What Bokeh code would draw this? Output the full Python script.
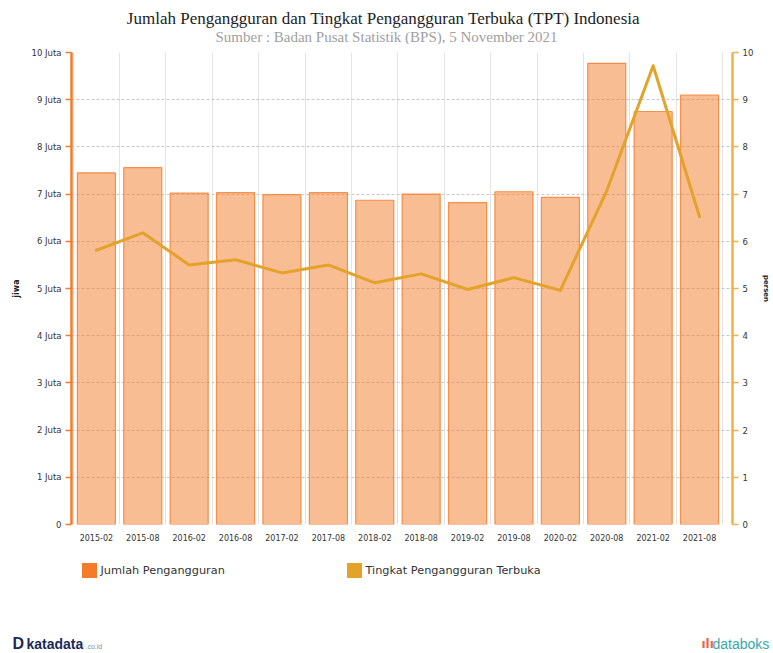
from bokeh.plotting import figure
from bokeh.layouts import column
from bokeh.models import (Range1d, LinearAxis, FixedTicker, SingleIntervalTicker,
                          PrintfTickFormatter)
from bokeh.core.properties import value
from bokeh.embed import file_html
from bokeh.resources import INLINE

# ---- data ----
periods = ["2015-02", "2015-08", "2016-02", "2016-08", "2017-02", "2017-08", "2018-02",
           "2018-08", "2019-02", "2019-08", "2020-02", "2020-08", "2021-02", "2021-08"]
jumlah_juta = [7.45, 7.56, 7.02, 7.03, 6.99, 7.03, 6.87, 7.00, 6.82, 7.05, 6.93, 9.77, 8.75, 9.10]
tpt_persen = [5.81, 6.18, 5.50, 5.61, 5.33, 5.50, 5.12, 5.31, 4.98, 5.23, 4.96, 7.07, 9.72, 6.52]
left_ticks = list(range(0, 11))
title_text = "Jumlah Pengangguran dan Tingkat Pengangguran Terbuka (TPT) Indonesia"
subtitle_text = "Sumber : Badan Pusat Statistik (BPS), 5 November 2021"
series_names = ["Jumlah Pengangguran", "Tingkat Pengangguran Terbuka"]

ORANGE = "#F47B2A"
GOLD = "#E3A229"
TXT = "#333333"
W = 773


def blank(h):
    f = figure(width=W, height=h, x_range=Range1d(0, W), y_range=Range1d(h, 0),
               x_axis_type=None, y_axis_type=None, output_backend="svg",
               toolbar_location=None, min_border=0, outline_line_color=None,
               background_fill_color="white", border_fill_color="white",
               frame_align=False)
    return f


# ---- header ----
HH = 44
head = blank(HH)
head.text(x=[383], y=[18], text=[title_text], text_align="center", text_baseline="middle",
          text_font=value("Liberation Serif"), text_font_size="17px", text_color="#222222")
head.text(x=[386], y=[36], text=[subtitle_text], text_align="center", text_baseline="middle",
          text_font=value("Liberation Serif"), text_font_size="15px", text_color="#a0a0a0")

# ---- main chart ----
MH = 504  # page y 44 .. 548 ; frame page y 52 .. 524
xs = [i + 0.5 for i in range(len(periods))]
p = figure(width=W, height=MH,
           x_range=Range1d(-0.036, 14.21), y_range=Range1d(0, 10),
           output_backend="svg", toolbar_location=None,
           min_border_left=71, min_border_right=38, min_border_top=8, min_border_bottom=24,
           outline_line_color=None, background_fill_color="white", border_fill_color="white",
           frame_align=False)
p.extra_y_ranges = {"tpt": Range1d(0, 10)}

p.xgrid.ticker = FixedTicker(ticks=list(range(0, len(periods) + 1)))
p.xgrid.grid_line_color = "#e3e3e3"
p.xgrid.grid_line_width = 1
p.ygrid.grid_line_color = "#c8c8c8"
p.ygrid.grid_line_dash = "3 2"
p.ygrid.grid_line_width = 1

la = p.yaxis[0]
la.ticker = FixedTicker(ticks=left_ticks)
la.formatter = PrintfTickFormatter(format="%d Juta")
la.major_label_overrides = {0: "0"}
la.axis_line_color = ORANGE
la.axis_line_width = 2.5
la.major_tick_line_color = ORANGE
la.major_tick_line_width = 1.5
la.major_tick_in = 0
la.major_tick_out = 6
la.minor_tick_line_color = None
la.major_label_standoff = 4
la.major_label_text_font = "DejaVu Sans"
la.major_label_text_font_size = "8.5px"
la.major_label_text_color = TXT
la.axis_label = "jiwa"
la.axis_label_text_font = "DejaVu Sans"
la.axis_label_text_font_size = "8px"
la.axis_label_text_font_style = "bold"
la.axis_label_text_color = "#222222"
la.axis_label_standoff = 8

ra = LinearAxis(y_range_name="tpt", ticker=SingleIntervalTicker(interval=1))
ra.axis_line_color = "#EDB24A"
ra.axis_line_width = 2.5
ra.major_tick_line_color = "#EDB24A"
ra.major_tick_line_width = 1.5
ra.major_tick_in = 0
ra.major_tick_out = 6
ra.minor_tick_line_color = None
ra.major_label_standoff = 4
ra.major_label_text_font = "DejaVu Sans"
ra.major_label_text_font_size = "8.5px"
ra.major_label_text_color = TXT
ra.axis_label = "persen"
ra.axis_label_text_font = "DejaVu Sans"
ra.axis_label_text_font_size = "7px"
ra.axis_label_text_font_style = "bold"
ra.axis_label_text_color = "#222222"
ra.axis_label_standoff = 6
p.add_layout(ra, "right")

xa = p.xaxis[0]
xa.ticker = FixedTicker(ticks=xs)
xa.major_label_overrides = {x: lab for x, lab in zip(xs, periods)}
xa.axis_line_color = None
xa.major_tick_line_color = None
xa.minor_tick_line_color = None
xa.major_label_standoff = 3
xa.major_label_text_font = "DejaVu Sans"
xa.major_label_text_font_size = "8px"
xa.major_label_text_color = TXT

p.vbar(x=xs, top=jumlah_juta, bottom=0, width=0.82,
       fill_color=ORANGE, fill_alpha=0.5, line_color=ORANGE, line_alpha=0.8, line_width=1.2)
p.line(x=xs, y=tpt_persen, y_range_name="tpt", line_color=GOLD, line_width=3,
       line_join="round", line_cap="round")

# ---- footer: legend + logos (page y 548 .. 653) ----
FY0 = HH + MH
FH = 653 - FY0
foot = blank(FH)
# legend swatches and labels
foot.rect(x=[89, 354], y=[570 - FY0, 570 - FY0], width=15, height=15,
          fill_color=[ORANGE, GOLD], line_color=None)
foot.text(x=[100, 365], y=[570 - FY0, 570 - FY0], text=series_names,
          text_baseline="middle", text_font=value("DejaVu Sans"),
          text_font_size="11.3px", text_color=TXT)

foot.text(x=[12], y=[643 - FY0], text=["D"], text_baseline="middle",
          text_font=value("Liberation Sans"), text_font_size="16px",
          text_font_style="bold", text_color="#1d2a55")
foot.text(x=[26], y=[643 - FY0], text=["katadata"], text_baseline="middle",
          text_font=value("Liberation Sans"), text_font_size="14px",
          text_font_style="bold", text_color="#1d2a55")
foot.text(x=[85], y=[646 - FY0], text=[".co.id"], text_baseline="middle",
          text_font=value("Liberation Sans"), text_font_size="7px", text_color="#8090a0")
foot.text(x=[701], y=[643 - FY0], text=["ılı"], text_baseline="middle",
          text_font=value("DejaVu Sans"), text_font_size="12px",
          text_font_style="bold", text_color="#e8654a")
foot.text(x=[712], y=[643 - FY0], text=["databoks"], text_baseline="middle",
          text_font=value("Liberation Sans"), text_font_size="14px",
          text_color="#3aa7a9")

layout = column(head, p, foot, spacing=0)
open("out.html", "w").write(file_html(layout, INLINE))
